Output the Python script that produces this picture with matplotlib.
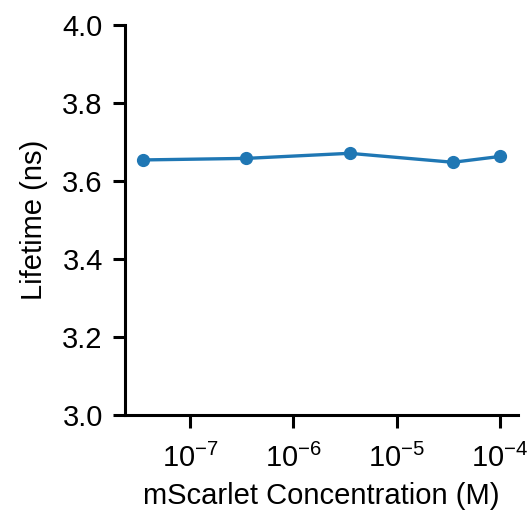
import matplotlib
matplotlib.use('Agg')
import matplotlib.pyplot as plt

plt.rcParams['font.family'] = ['Liberation Sans', 'DejaVu Sans']
plt.rcParams['mathtext.fontset'] = 'custom'
plt.rcParams['mathtext.rm'] = 'Liberation Sans'
plt.rcParams['mathtext.it'] = 'Liberation Sans:italic'
plt.rcParams['mathtext.bf'] = 'Liberation Sans:bold'

# mScarlet 浓度 (M) 和寿命 (ns)
concentration = [3.5e-8, 3.5e-7, 3.5e-6, 3.5e-5, 1e-4]
lifetime = [3.654, 3.658, 3.671, 3.648, 3.663]

fig = plt.figure(figsize=(5.32, 5.23), dpi=100)
ax = fig.add_axes([125 / 532, 1 - 415 / 523, 393 / 532, 390 / 523])

ax.plot(concentration, lifetime, 'o-', color='#1f77b4', lw=2.4, ms=8.5)
ax.set_xscale('log')
ax.set_ylim(3.0, 4.0)
ax.set_yticks([3.0, 3.2, 3.4, 3.6, 3.8, 4.0])
ax.minorticks_off()

ax.spines['top'].set_visible(False)
ax.spines['right'].set_visible(False)
for s in ['left', 'bottom']:
    ax.spines[s].set_linewidth(2.2)
ax.tick_params(width=2.2, length=9, labelsize=21, pad=7)
ax.tick_params(axis='x', pad=12)

ax.set_xlabel('mScarlet Concentration (M)', fontsize=21, labelpad=6)
ax.set_ylabel('Lifetime (ns)', fontsize=21, labelpad=10)

fig.savefig('out.png', dpi=100)
